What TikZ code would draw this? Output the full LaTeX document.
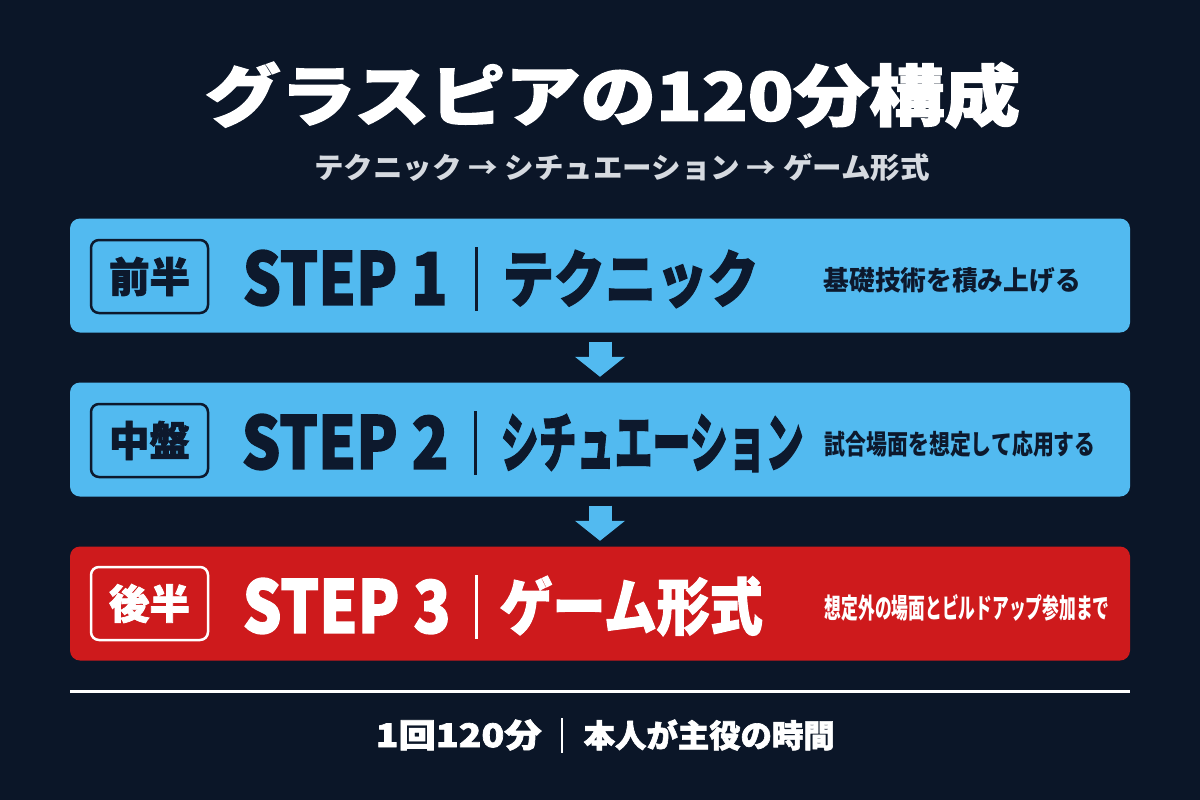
\documentclass[tikz,border=0pt]{standalone}
\usepackage{fontspec}
\usepackage{graphicx}
\usetikzlibrary{arrows.meta}
\setmainfont{Noto Sans CJK JP}
\newfontfamily\heavyfont{Noto Sans CJK JP}[FakeBold=2]

\definecolor{bgnavy}{RGB}{11,22,40}
\definecolor{stepblue}{RGB}{82,186,240}
\definecolor{stepred}{RGB}{206,26,28}
\definecolor{inkdark}{RGB}{13,25,45}
\definecolor{subgray}{RGB}{214,218,224}

\newlength\px
\setlength\px{0.01cm}
% squeeze a bold text into w x h pixels
\newcommand\fitto[3]{\resizebox*{#1\px}{#2\px}{\bfseries #3}}
\newcommand\fitheavy[3]{\resizebox*{#1\px}{#2\px}{\heavyfont\bfseries #3}}

\begin{document}
\begin{tikzpicture}[x=0.01cm, y=-0.01cm,
  panel/.style={rounded corners=10\px, minimum width=1060\px, minimum height=114\px, inner sep=0pt},
  badge/.style={draw, line width=2.5\px, rounded corners=8\px, minimum width=117\px, minimum height=73\px, inner sep=0pt},
  word/.style={inner sep=0pt, anchor=west},
  bar/.style={line width=3\px},
  flow/.style={stepblue, line width=0.23cm, -{Triangle[width=0.49cm,length=0.2cm]}, shorten <=8.5\px, shorten >=5\px}]
\fill [bgnavy] (0,0) rectangle (1200,800);

% heading
\node [text=white] (title) at (612.5,95) {\fitheavy{815}{66}{グラスピアの120分構成}};
\node [text=subgray] (sub) at (622,167) {\fitto{616}{28}{テクニック → シチュエーション → ゲーム形式}};

% step 1
\node [panel, fill=stepblue] (s1) at (600,275.5) {};
\node [badge, draw=inkdark, text=inkdark] (h1) at (149.5,276.5) {\fitheavy{81}{39}{前半}};
\node [word, text=inkdark] (n1) at (242,278) {\fitheavy{205}{56}{STEP 1}};
\draw [bar, inkdark] (476,247) -- (476,311);
\node [word, text=inkdark] (t1) at (502,279) {\fitheavy{256}{58}{テクニック}};
\node [word, text=inkdark] (d1) at (823,280) {\fitto{257}{26}{基礎技術を積み上げる}};

% step 2
\node [panel, fill=stepblue] (s2) at (600,439.5) {};
\node [badge, draw=inkdark, text=inkdark] (h2) at (149.5,440.5) {\fitheavy{81}{39}{中盤}};
\node [word, text=inkdark] (n2) at (241,442) {\fitheavy{207}{56}{STEP 2}};
\draw [bar, inkdark] (475,411) -- (475,475);
\node [word, text=inkdark] (t2) at (500,443) {\fitheavy{303}{58}{シチュエーション}};
\node [word, text=inkdark] (d2) at (824,444) {\fitto{271}{26}{試合場面を想定して応用する}};

% step 3
\node [panel, fill=stepred] (s3) at (600,603.5) {};
\node [badge, draw=white, text=white] (h3) at (149.5,603.5) {\fitheavy{81}{39}{後半}};
\node [word, text=white] (n3) at (242,606) {\fitheavy{208}{56}{STEP 3}};
\draw [bar, white] (476,575) -- (476,639);
\node [word, text=white] (t3) at (499,606) {\fitheavy{263}{60}{ゲーム形式}};
\node [word, text=white] (d3) at (824,608) {\fitto{285}{27}{想定外の場面とビルドアップ参加まで}};

\draw [flow] (s1.south) -- (s2.north);
\draw [flow] (s2.south) -- (s3.north);

% footer
\draw [white, line width=3\px] (70,691.5) -- (1130,691.5);
\node [word, text=white] (f1) at (375,735) {\fitheavy{166}{31}{1回120分}};
\draw [white, line width=2\px] (562,718) -- (562,753);
\node [word, text=white] (f2) at (583,735) {\fitheavy{251}{31}{本人が主役の時間}};
\end{tikzpicture}
\end{document}
